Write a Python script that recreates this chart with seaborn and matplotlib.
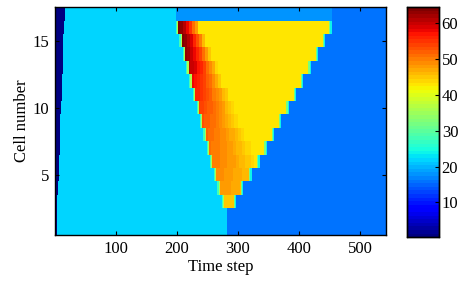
import numpy as np
import pandas as pd
import matplotlib
matplotlib.use("Agg")
import matplotlib.pyplot as plt
import seaborn as sns

plt.rcParams["font.family"] = ["Liberation Serif", "DejaVu Serif"]
plt.rcParams["font.size"] = 12

# --- valores ---
n_pasos = 542
celdas = np.arange(1, 18)                      # celdas 1..17
# fin de la franja inicial (azul oscuro) por celda
fin_inicio = [3, 3, 4, 5, 6, 7, 8, 9, 9, 10, 11, 12, 13, 13, 14, 15, 16]
# inicio y fin de la zona congestionada (celdas 3..16)
inicio_cola = [None, None, 276, 269, 263, 257, 252, 246, 240, 235, 229, 223, 218, 212, 207, 201, None]
fin_cola = [None, None, 295, 306, 320, 333, 345, 357, 369, 381, 393, 405, 417, 429, 441, 451, None]
pico = [None, None, 45, 48, 49, 50, 50.5, 51.5, 52.5, 54, 56, 58, 61, 63, 64, 64.5, None]
ancho_grad = [None, None, 85, 85, 80, 76, 72, 68, 64, 60, 56, 52, 48, 44, 40, 36, None]
# tiempo en que cambia el regimen aguas abajo (celdas 1-2) y fila superior
cambio_libre = 282
fila_sup = (200, 454)

# niveles de densidad
v_vacio = 1.0
v_libre = 21.8
v_salida = 16.3
v_sup = 18.0
v_cola = 42.5

t = np.arange(1, n_pasos + 1)
datos = np.zeros((len(celdas), n_pasos))
for k, c in enumerate(celdas):
    fila = np.full(n_pasos, v_libre)
    if c == 17:
        fila[(t >= fila_sup[0]) & (t <= fila_sup[1])] = v_sup
        fila[t > fila_sup[1]] = v_salida
    elif inicio_cola[k] is None:
        fila[t >= cambio_libre] = v_salida
    else:
        a, b = inicio_cola[k], fin_cola[k]
        fila[t > b] = v_salida
        dentro = (t >= a) & (t <= b)
        bloque = ((t - a) // 5) * 5
        x = np.clip(bloque / ancho_grad[k], 0, 1)
        val = v_cola + (pico[k] - v_cola) * (1 - x ** 1.4)
        fila[dentro] = val[dentro]
        # transiciones en los bordes
        fila[(t >= a - 2) & (t < a)] = 28
        fila[(t >= a) & (t < a + 2)] = 36
        fila[(t > b - 2) & (t <= b)] = 32
        fila[(t > b) & (t <= b + 2)] = 24
    fila[t <= fin_inicio[k]] = v_vacio
    datos[k] = fila

df = pd.DataFrame(datos, index=celdas, columns=t)

fig = plt.figure(figsize=(4.65, 2.86), dpi=100)
ax = fig.add_axes([0.118, 0.178, 0.712, 0.797])
cax = fig.add_axes([0.875, 0.171, 0.069, 0.804])

sns.heatmap(df, cmap=plt.get_cmap("jet", 64), vmin=0.3, vmax=64.5, ax=ax,
            cbar_ax=cax, xticklabels=False, yticklabels=False)
ax.invert_yaxis()

ax.set_xticks(np.array([100, 200, 300, 400, 500]) - 0.5)
ax.set_xticklabels(["100", "200", "300", "400", "500"])
ax.set_yticks(np.array([5, 10, 15]) - 0.5)
ax.set_yticklabels(["5", "10", "15"], rotation=0)
ax.tick_params(direction="in", length=3, top=True, right=True, labelsize=12, pad=4)
for s in ax.spines.values():
    s.set_visible(True)
    s.set_linewidth(1)
ax.set_xlabel("Time step", fontsize=12, labelpad=2)
ax.set_ylabel("Cell number", fontsize=12, labelpad=2)

cax.set_yticks([10, 20, 30, 40, 50, 60])
cax.tick_params(direction="in", length=3, labelsize=12, pad=2)
for s in cax.spines.values():
    s.set_visible(True)
    s.set_linewidth(1)

fig.savefig("out.png", dpi=100)
